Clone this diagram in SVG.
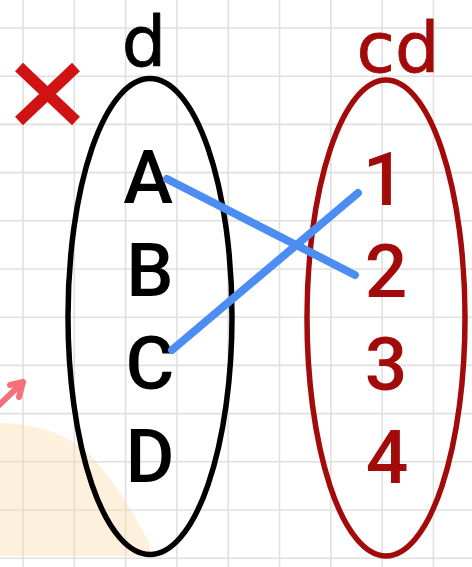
<svg xmlns="http://www.w3.org/2000/svg" width="472" height="567" viewBox="0 0 472 567">
<style>
.grid line{stroke:#e0e0e0;stroke-width:1.6}
.set{fill:none;stroke-width:5.5}
.lbl{font-family:Roboto,"Liberation Sans",sans-serif;font-weight:500;font-size:75px;text-anchor:middle}
.hand{font-family:"DejaVu Sans",sans-serif;font-size:70px;text-anchor:middle;stroke-width:0.8;stroke-linejoin:round}
.link{stroke:#4b8df0;stroke-width:8;stroke-linecap:round}
</style>
<rect width="472" height="567" fill="#ffffff"/>
<g class="grid">
<line x1="23" y1="0" x2="23" y2="567"/><line x1="74.3" y1="0" x2="74.3" y2="567"/><line x1="125.6" y1="0" x2="125.6" y2="567"/><line x1="176.9" y1="0" x2="176.9" y2="567"/><line x1="228.2" y1="0" x2="228.2" y2="567"/><line x1="279.5" y1="0" x2="279.5" y2="567"/><line x1="330.8" y1="0" x2="330.8" y2="567"/><line x1="382.1" y1="0" x2="382.1" y2="567"/><line x1="433.4" y1="0" x2="433.4" y2="567"/>
<line x1="0" y1="28" x2="472" y2="28"/><line x1="0" y1="76.2" x2="472" y2="76.2"/><line x1="0" y1="124.4" x2="472" y2="124.4"/><line x1="0" y1="172.6" x2="472" y2="172.6"/><line x1="0" y1="220.8" x2="472" y2="220.8"/><line x1="0" y1="269" x2="472" y2="269"/><line x1="0" y1="317.2" x2="472" y2="317.2"/><line x1="0" y1="365.4" x2="472" y2="365.4"/><line x1="0" y1="413.6" x2="472" y2="413.6"/><line x1="0" y1="461.8" x2="472" y2="461.8"/><line x1="0" y1="510" x2="472" y2="510"/><line x1="0" y1="558.2" x2="472" y2="558.2"/>
</g>
<path d="M0,423 C40,424 75,435 100,466 C120,490 135,515 150,545 L150,556 L0,556 Z" fill="#fbd9a8" opacity="0.4"/>
<g fill="none" stroke="#f4707a" stroke-width="6" stroke-linecap="round" stroke-linejoin="round">
<path d="M-4,408 L23,382 M10,385 L23,382 L19,397"/>
</g>
<path d="M19,67 L76,121 M76,67 L19,121" stroke="#d01212" stroke-width="11.5"/>
<g id="setD">
<ellipse class="set" cx="150" cy="316.5" rx="82" ry="238" stroke="#000000"/>
<text class="hand" x="144" y="66" fill="#000" stroke="#000">d</text>
<text class="lbl" x="148" y="203" fill="#000">A</text>
<text class="lbl" x="150" y="296" fill="#000">B</text>
<text class="lbl" x="150" y="389" fill="#000">C</text>
<text class="lbl" x="150" y="482" fill="#000">D</text>
</g>
<g id="setCD">
<ellipse class="set" cx="386" cy="318" rx="79" ry="238" stroke="#a30a0a"/>
<text class="hand" x="398" y="72" fill="#a30a0a" stroke="#a30a0a">cd</text>
<text class="lbl" x="384" y="205" fill="#a30a0a">1</text>
<text class="lbl" x="386" y="297" fill="#a30a0a">2</text>
<text class="lbl" x="386" y="390" fill="#a30a0a">3</text>
<text class="lbl" x="387" y="483" fill="#a30a0a">4</text>
</g>
<g id="connectors">
<line class="link" x1="167" y1="179" x2="355" y2="275"/>
<line class="link" x1="172" y1="350" x2="358" y2="193"/>
</g>
</svg>
